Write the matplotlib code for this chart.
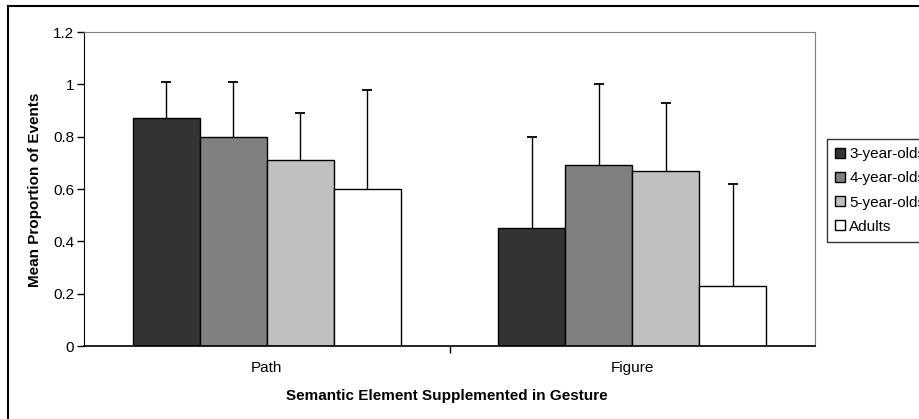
import numpy as np
import matplotlib.pyplot as plt
from matplotlib.patches import Rectangle

plt.rcParams['font.family'] = ['Liberation Sans', 'DejaVu Sans']

# Data
categories = ["Path", "Figure"]
groups = ["3-year-olds", "4-year-olds", "5-year-olds", "Adults"]
means = {
    "3-year-olds": [0.87, 0.45],
    "4-year-olds": [0.80, 0.69],
    "5-year-olds": [0.71, 0.67],
    "Adults": [0.60, 0.23],
}
err_tops = {
    "3-year-olds": [1.01, 0.80],
    "4-year-olds": [1.01, 1.00],
    "5-year-olds": [0.89, 0.93],
    "Adults": [0.98, 0.62],
}
colors = ["#333333", "#808080", "#c0c0c0", "#ffffff"]

W, H = 919, 419
fig = plt.figure(figsize=(W / 100, H / 100), dpi=100)

# outer chart border (cut off on the right and bottom, as in the reference)
fig.patches.append(Rectangle((8 / W, -0.1), 1.2, 1 - 6 / H + 0.1,
                             transform=fig.transFigure, fill=False,
                             edgecolor="black", linewidth=1.5))

ax = fig.add_axes([84 / W, 1 - 346 / H, (815 - 84) / W, (346 - 32) / H])

x = np.arange(len(categories))
bw = 0.183
for i, g in enumerate(groups):
    pos = x + (i - 1.5) * bw
    vals = np.array(means[g])
    errs = np.array(err_tops[g]) - vals
    ax.bar(pos, vals, bw, color=colors[i], edgecolor="black", linewidth=1,
           label=g, zorder=2)
    _, caps, _ = ax.errorbar(pos, vals, yerr=[np.zeros_like(errs), errs],
                             fmt="none", ecolor="black", elinewidth=1,
                             capsize=3.5, capthick=1.3, zorder=3)
    caps[0].set_visible(False)  # only upper caps

ax.set_xlim(-0.5, 1.5)
ax.set_ylim(0, 1.2)
ax.set_yticks([0, 0.2, 0.4, 0.6, 0.8, 1.0, 1.2])
ax.set_yticklabels(["0", "0.2", "0.4", "0.6", "0.8", "1", "1.2"])
ax.set_xticks([0.5])
ax.set_xticklabels([""])
ax.tick_params(axis="x", length=5, direction="out", width=1)
ax.tick_params(axis="y", length=5, direction="out", width=1, labelsize=11,
               pad=2)
for xi, c in zip(x, categories):
    ax.text(xi, -0.085, c, ha="center", va="center", fontsize=11,
            transform=ax.transData, clip_on=False)

ax.spines["top"].set_color("#808080")
ax.spines["right"].set_color("#808080")
ax.spines["left"].set_color("black")
ax.spines["bottom"].set_color("black")
ax.spines["bottom"].set_linewidth(1.2)

fig.text(35 / W, 1 - 190 / H, "Mean Proportion of Events", rotation=90,
         ha="center", va="center", fontsize=11, fontweight="bold")
fig.text(447 / W, 1 - 396 / H, "Semantic Element Supplemented in Gesture",
         ha="center", va="center", fontsize=11, fontweight="bold")

leg = fig.legend(loc="upper left", bbox_to_anchor=(827 / W, 1 - 139 / H),
                 fontsize=11, frameon=True, fancybox=False, edgecolor="black",
                 handlelength=0.6, handleheight=0.6, handletextpad=0.3,
                 labelspacing=0.66, borderpad=0.55, borderaxespad=0)
leg.get_frame().set_linewidth(1)

fig.savefig("out.png", dpi=100)
